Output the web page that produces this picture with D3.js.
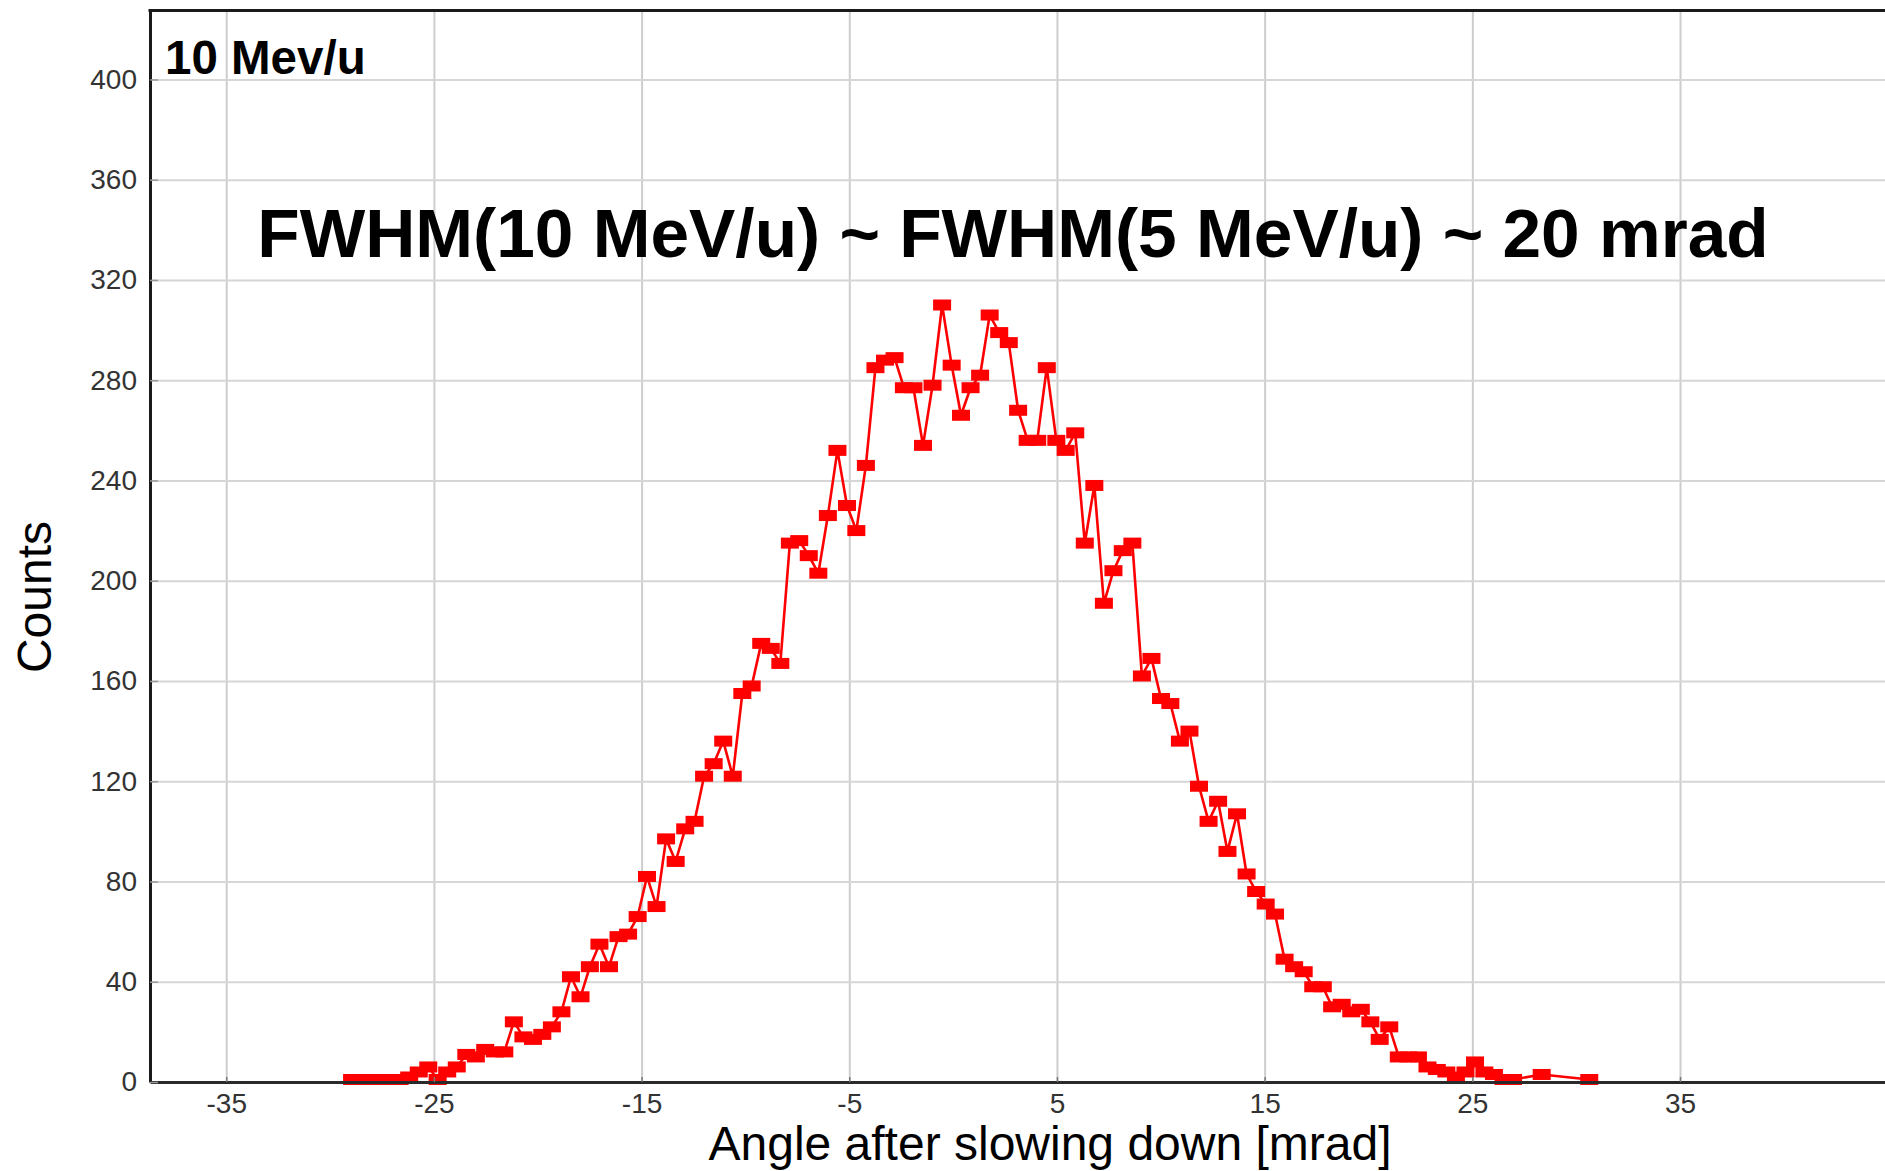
<!DOCTYPE html>
<html>
<head>
<meta charset="utf-8">
<script src="https://cdn.jsdelivr.net/npm/d3@7"></script>
<style>
  body { margin: 0; background: #fff; }
  text { font-family: "Liberation Sans", Arial, Helvetica, sans-serif; }
</style>
</head>
<body>
<div id="chart"></div>
<script>
"use strict";

//********************************* DATA *********************************
// bin centres [mrad] (empty bins at the far right are not drawn)
var angles = [
  -28.94, -28.48, -28.02, -27.57, -27.11, -26.65, -26.19, -25.73, -25.27, -24.82,
  -24.36, -23.90, -23.44, -22.98, -22.53, -22.07, -21.61, -21.15, -20.69, -20.23,
  -19.78, -19.32, -18.86, -18.40, -17.94, -17.49, -17.03, -16.57, -16.11, -15.65,
  -15.19, -14.74, -14.28, -13.82, -13.36, -12.90, -12.45, -11.99, -11.53, -11.07,
  -10.61, -10.15, -9.70, -9.24, -8.78, -8.32, -7.86, -7.41, -6.95, -6.49,
  -6.03, -5.57, -5.11, -4.66, -4.20, -3.74, -3.28, -2.82, -2.37, -1.91,
  -1.45, -0.99, -0.53, -0.07, 0.38, 0.84, 1.30, 1.76, 2.22, 2.68,
  3.13, 3.59, 4.05, 4.51, 4.97, 5.42, 5.88, 6.34, 6.80, 7.26,
  7.72, 8.17, 8.63, 9.09, 9.55, 10.01, 10.46, 10.92, 11.38, 11.84,
  12.30, 12.76, 13.21, 13.67, 14.13, 14.59, 15.05, 15.50, 15.96, 16.42,
  16.88, 17.34, 17.80, 18.25, 18.71, 19.17, 19.63, 20.09, 20.54, 21.00,
  21.46, 21.92, 22.38, 22.84, 23.29, 23.75, 24.21, 24.67, 25.13, 25.58,
  26.04, 26.50, 26.96, 28.34, 30.63
];

var counts = [
  1, 1, 1, 1, 1, 1, 2, 4, 6, 1,
  4, 6, 11, 10, 13, 12, 12, 24, 18, 17,
  19, 22, 28, 42, 34, 46, 55, 46, 58, 59,
  66, 82, 70, 97, 88, 101, 104, 122, 127, 136,
  122, 155, 158, 175, 173, 167, 215, 216, 210, 203,
  226, 252, 230, 220, 246, 285, 288, 289, 277, 277,
  254, 278, 310, 286, 266, 277, 282, 306, 299, 295,
  268, 256, 256, 285, 256, 252, 259, 215, 238, 191,
  204, 212, 215, 162, 169, 153, 151, 136, 140, 118,
  104, 112, 92, 107, 83, 76, 71, 67, 49, 46,
  44, 38, 38, 30, 31, 28, 29, 24, 17, 22,
  10, 10, 10, 6, 5, 4, 2, 4, 8, 4,
  3, 1, 1, 3, 1
];

var xTicks = [-35, -25, -15, -5, 5, 15, 25, 35];
var yTicks = [0, 40, 80, 120, 160, 200, 240, 280, 320, 360, 400];

var panelLabel = "10 Mev/u";
var noteText = "FWHM(10 MeV/u) ~ FWHM(5 MeV/u) ~ 20 mrad";
var xTitle = "Angle after slowing down [mrad]";
var yTitle = "Counts";

//********************************* LAYOUT *********************************
var chartWidth = 1885, chartHeight = 1171;
var plotLeft = 150, plotTop = 10, plotRight = 1885, plotBottom = 1082;

var svg = d3.select("#chart").append("svg")
  .attr("width", chartWidth)
  .attr("height", chartHeight)
  .style("display", "block");

svg.append("rect").attr("width", chartWidth).attr("height", chartHeight).attr("fill", "#fff");

var x = d3.scaleLinear().domain([-38.67, 44.87]).range([plotLeft, plotRight]);
var y = d3.scaleLinear().domain([0, 427.7]).range([plotBottom, plotTop]);

var points = angles.map(function(a, i){ return { a: a, c: counts[i] }; });

// plain hyphen for negatives, like the original plot
var plainFormat = function(d){ return String(d); };

//********************************* GRID *********************************
var gridX = svg.append("g")
  .attr("transform", "translate(0," + plotBottom + ")")
  .call(d3.axisBottom(x).tickValues(xTicks).tickSize(-(plotBottom - plotTop)).tickFormat(""));
gridX.select(".domain").remove();
gridX.selectAll("line").attr("stroke", "#cdcdcd").attr("stroke-width", 2);

var gridY = svg.append("g")
  .attr("transform", "translate(" + plotLeft + ",0)")
  .call(d3.axisLeft(y).tickValues(yTicks.slice(1)).tickSize(-(plotRight - plotLeft)).tickFormat(""));
gridY.select(".domain").remove();
gridY.selectAll("line").attr("stroke", "#d6d6d6").attr("stroke-width", 2);

//********************************* SERIES *********************************
var line = d3.line()
  .x(function(d){ return x(d.a); })
  .y(function(d){ return y(d.c); });

svg.append("path")
  .datum(points)
  .attr("d", line)
  .attr("fill", "none")
  .attr("stroke", "#ff0000")
  .attr("stroke-width", 2.6)
  .attr("stroke-linejoin", "round");

var mw = 18, mh = 11;	//marker size
svg.append("g").selectAll("rect")
  .data(points)
  .enter()
    .append("rect")
    .attr("x", function(d){ return x(d.a) - mw / 2; })
    .attr("y", function(d){ return y(d.c) - mh / 2; })
    .attr("width", mw)
    .attr("height", mh)
    .attr("fill", "#ff0000");

//********************************* AXES *********************************
var xAxis = svg.append("g")
  .attr("transform", "translate(0," + plotBottom + ")")
  .call(d3.axisBottom(x).tickValues(xTicks).tickFormat(plainFormat).tickSize(-5).tickSizeOuter(0).tickPadding(11));
xAxis.select(".domain").attr("stroke", "#2a2a2a").attr("stroke-width", 3);
xAxis.selectAll(".tick line").attr("stroke", "#777").attr("stroke-width", 1.5);
xAxis.selectAll("text")
  .attr("fill", "#333")
  .style("font-size", "28px");

var yAxis = svg.append("g")
  .attr("transform", "translate(" + plotLeft + ",0)")
  .call(d3.axisLeft(y).tickValues(yTicks).tickFormat(plainFormat).tickSize(-8).tickSizeOuter(0).tickPadding(13));
yAxis.select(".domain").attr("stroke", "#1a1a1a").attr("stroke-width", 3);
yAxis.selectAll(".tick line").attr("stroke", "#999").attr("stroke-width", 1.5);
yAxis.selectAll("text")
  .attr("fill", "#333")
  .style("font-size", "28px");

// top frame line
svg.append("line")
  .attr("x1", plotLeft - 1.5).attr("x2", plotRight)
  .attr("y1", plotTop + 0.5).attr("y2", plotTop + 0.5)
  .attr("stroke", "#1a1a1a")
  .attr("stroke-width", 3);

//********************************* TEXT *********************************
svg.append("text")
  .attr("x", 1050)
  .attr("y", 1160)
  .attr("text-anchor", "middle")
  .style("font-size", "48px")
  .attr("fill", "#000")
  .text(xTitle);

svg.append("text")
  .attr("transform", "translate(51,597) rotate(-90)")
  .attr("text-anchor", "middle")
  .style("font-size", "48px")
  .attr("fill", "#000")
  .text(yTitle);

svg.append("text")
  .attr("x", 165)
  .attr("y", 74)
  .style("font-size", "47.5px")
  .style("font-weight", "bold")
  .attr("fill", "#000")
  .text(panelLabel);

svg.append("text")
  .attr("x", 1013)
  .attr("y", 257)
  .attr("text-anchor", "middle")
  .style("font-size", "69.4px")
  .style("font-weight", "bold")
  .attr("fill", "#000")
  .text(noteText);
</script>
</body>
</html>
